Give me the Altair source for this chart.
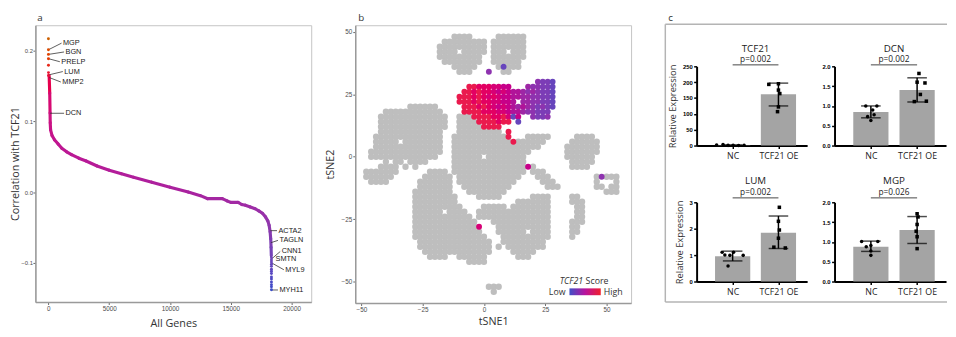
import altair as alt
import pandas as pd

FONT = "Liberation Sans"
TFONT = "Open Sans"

# ======================= panel a : correlation with TCF21 =======================
head_rank = [1, 2, 3, 4, 5, 6, 7]
head_corr = [0.217, 0.2014, 0.1948, 0.1887, 0.1793, 0.169, 0.165]

curve_rank = [60, 110, 137, 150, 180, 300, 500, 800, 1100, 1500, 1900, 2500, 3100, 4000,
              5000, 6000, 7000, 8500, 10000, 11500, 12500, 13100, 14300, 14700, 15000,
              15600, 15900, 16200, 16600, 17000, 17300, 17600, 17850, 18050, 18150,
              18230, 18280, 18310, 18330]
curve_corr = [0.165, 0.140, 0.112, 0.098, 0.088, 0.080, 0.074, 0.068, 0.062, 0.057, 0.053,
              0.048, 0.044, 0.037, 0.031, 0.026, 0.021, 0.014, 0.007, 0.000, -0.005,
              -0.0093, -0.0093, -0.0125, -0.0145, -0.0145, -0.0175, -0.0185, -0.021,
              -0.0235, -0.0265, -0.030, -0.035, -0.041, -0.047, -0.056, -0.066, -0.078, -0.090]

tail_rank = [18340, 18340, 18340, 18340, 18340, 18340, 18340,
             18340, 18340, 18340, 18340, 18340, 18340, 18340]
tail_corr = [-0.093, -0.096, -0.099, -0.102, -0.105, -0.109, -0.112,
             -0.115, -0.120, -0.123, -0.127, -0.131, -0.134, -0.138]

label_gene = ["MGP", "BGN", "PRELP", "LUM", "MMP2", "DCN",
              "ACTA2", "TAGLN", "CNN1", "SMTN", "MYL9", "MYH11"]
label_from_rank = [10, 10, 10, 80, 80, 137, 18260, 18300, 18345, 18560, 18345, 18340]
label_from_corr = [0.2014, 0.1948, 0.1887, 0.166, 0.162, 0.1115,
                   -0.0545, -0.0715, -0.0946, -0.0946, -0.100, -0.1384]
label_to_rank = [1080, 1288, 942, 1184, 1023, 1288, 18797, 18877, 19063, 18560, 19360, 18877]
label_to_corr = [0.2107, 0.1982, 0.1844, 0.1705, 0.1557, 0.1115,
                 -0.0545, -0.0683, -0.084, -0.0946, -0.1098, -0.1384]

# ======================= panel b : tSNE map (2-unit grid) ==========
# '#' grey cell, digit = TCF21 score (0 low .. 9 high), '.' empty
TSNE_X0, TSNE_Y0, TSNE_STEP = -50, 52, 2
tsne_mask = [
    "",
    "",
    "....." "....." "....." "...." "####" "....." "######",
    "....." "....." "....." ".." "#####" "####" "." "#####" "##",
    "....." "....." "....." "." "#####" "#####" "." "#####" "##",
    "....." "....." "....." "." "####." "#####" "." "###.###",
    "....." "....." "....." "." "#####" "####" ".." "#####" "##",
    "....." "....." "....." ".." "#####" "###" ".." "#####" "#",
    "....." "....." "....." "...." "#####" "...." "#1###",
    "....." "....." "....." "....." "###" "..." "3" ".." "##",
    "",
    "....." "....." "....." "....." "....." "....." "....." "." "3221",
    "....." "....." "....." "....." ".." "998887766" "..." "433221",
    "....." "....." "....." "....." "." "9989887676554343221",
    "....." "....." "....." "....." "99989878766554433221",
    "....." "....." "....." "....." "999898877665.4433221",
    "....." "....." "#####" "#" "....." "9998987676545432321",
    "....." "#####" "#####" "##" "...." "999988877655433222",
    "...." "#####" "#####" "####" ".." "###" "9999889716" ".." "3223",
    "...." "#####" "#####" "####" ".." "####" "9999899" "." "1",
    "...." "#####" "#####" "####" ".." "#####" "9999",
    "...." "#####" "#####" "###" "..." "#####" "####" "." "9",
    "..." "#####" "#####" "####" ".." "#####" "#####" "#" "9" "..." "#####" "....." "####",
    "..." "#####" ".####" "####" ".." "#####" "#####" "##" "9" "#####" "#" "....." "#####" "#",
    "..." "#####" "#####" "####" ".." "#####" "#####" "#####" "###" "....." "#####" "##",
    ".." "#####" "#####" "#####" ".." "#####" "#####" "#####" "#" "....." ".." "#####" "##",
    ".." "#####" "#####" "####" "..." "#####" "#.###" "#####" "....." "..." "#####" "#",
    "....." "#.##.####" "....." "#####" "#####" "#####" "....." "...." "#####",
    "...." "####" ".#.#" "....." ".." "#####" "#####" "#####" "6#" "....." ".." "####",
    "." "#####" "##" "....." "." "####" "." "#####" "#####" "#####" "." "###",
    "." "#####" "#" "....." "." "#####" "#" "." "#####" "#####" "###" "..." "###" "....." "...." "#3###",
    ".." "####" "....." "." "#####" "##" "." "#####" "#####" "##" "....." "###" "....." "..." "#...#",
    "....." "....." ".." "#####" "##" ".." "#####" "#####" "....." ".." "###" "....." ".." "##.##",
    "....." "....." "." "#####" "###" "..." "#####" "###" "....." "....." "....." "....." "###",
    "....." "....." "." "#####" "####" "...." "#####" "....." "." "####" "...." "##",
    "....." "....." "." "#####" "####" "....." "....." ".." "#####" "##" "...." "###",
    "....." "....." "." "#####" "#####" "...." "#####" "." "#####" "###" "....." "##",
    "....." "....." "." "#####" "#.###" "#" ".." "#####" "#####" "#####" "....." "##",
    "....." "....." "." "#####" "#####" "##" "." "#####" "#####" "#####" "....." "##",
    "....." "....." "." "#####" "#####" "###" "..." "#####" "#####" "##" "...." "###",
    "....." "....." "." "#####" "#####" "###" "7" "..." "#####" "#####" "#" "...." "##",
    "....." "....." "." "#####" "#####" "####" "..." "#####" "#.###" "#" "...." "##",
    "....." "....." "." "#####" "#####" "#####" "..." "#####" "#####" "...." "#",
    "....." "....." ".." "#####" "#####" "#####" ".." "#####" "####",
    "....." "....." ".." "#####" "#####" "#####" "." "#" "." "#####" "###",
    "....." "....." "..." "#####" "#####" "####" "...." "#####",
    "....." "....." "...." "####" ".." "#####" "#" "....." "." "###",
    "....." "....." "....." "....." ".." "####",
    "",
    "",
    "",
    "",
    "....." "....." "....." "....." "....." "." "###",
    "....." "....." "....." "....." "....." ".." "#",
    "",
]

# ======================= panel c : qPCR bars =======================
p_values = {"TCF21": "p=0.002", "DCN": "p=0.002", "LUM": "p=0.002", "MGP": "p=0.026"}
bar_means = {"TCF21": [1.0, 162], "DCN": [0.85, 1.40], "LUM": [0.96, 1.85], "MGP": [0.88, 1.30]}
err_low = {"TCF21": [0.4, 125], "DCN": [0.70, 1.10], "LUM": [0.78, 1.25], "MGP": [0.76, 0.96]}
err_high = {"TCF21": [1.8, 197], "DCN": [1.0, 1.71], "LUM": [1.15, 2.48], "MGP": [1.02, 1.64]}
nc_points = {"TCF21": [1.5, 3.5, 0.6, 1.0, 0.4, 0.8],
             "DCN": [1.0, 1.0, 0.9, 0.78, 0.73, 0.63],
             "LUM": [1.11, 1.11, 1.0, 0.99, 0.99, 0.59],
             "MGP": [1.01, 1.01, 0.91, 0.88, 0.77, 0.66]}
nc_offsets = {"TCF21": [-0.35, -0.21, -0.10, 0.01, 0.13, 0.25],
              "DCN": [-0.11, 0.13, 0.04, 0.07, -0.07, 0.0],
              "LUM": [-0.23, 0.02, -0.17, -0.06, 0.23, -0.1],
              "MGP": [-0.2, 0.15, 0.0, -0.1, 0.0, 0.0]}
oe_points = {"TCF21": [193, 195, 175, 164, 122, 107],
             "DCN": [1.82, 1.60, 1.58, 1.29, 1.11, 1.12],
             "LUM": [2.81, 2.28, 1.95, 1.64, 1.30, 1.27],
             "MGP": [1.71, 1.63, 1.44, 1.27, 1.13, 0.83]}
oe_offsets = {"TCF21": [-0.21, 0.0, 0.0, 0.03, 0.0, -0.02],
              "DCN": [0.04, 0.0, 0.17, 0.07, -0.06, 0.2],
              "LUM": [0.02, 0.0, 0.02, 0.0, -0.1, 0.15],
              "MGP": [0.0, 0.02, 0.0, -0.02, 0.0, 0.0]}
y_max = {"TCF21": 250, "DCN": 2.0, "LUM": 3, "MGP": 2.0}
y_ticks = {"TCF21": [0, 50, 100, 150, 200, 250], "DCN": [0, 0.5, 1.0, 1.5, 2.0],
           "LUM": [0, 1, 2, 3], "MGP": [0, 0.5, 1.0, 1.5, 2.0]}
y_format = {"TCF21": "d", "DCN": ".1f", "LUM": "d", "MGP": ".1f"}

one = pd.DataFrame({"k": [0]})
LABEL_Y = -7.5

# ----------------------------- panel a -----------------------------
seg = pd.DataFrame({"x": curve_rank[:-1], "y": curve_corr[:-1],
                    "x2": curve_rank[1:], "y2": curve_corr[1:]})
seg["c"] = (seg["y"] + seg["y2"]) / 2
pts_a = pd.DataFrame({"x": head_rank + tail_rank, "y": head_corr + tail_corr})
lab_lines = pd.DataFrame({"x": label_from_rank, "y": label_from_corr,
                          "x2": label_to_rank, "y2": label_to_corr})
lab_text = pd.DataFrame({"gene": label_gene, "x": label_to_rank, "y": label_to_corr})

a_xs = alt.Scale(domain=[-1070, 21611], nice=False, zero=False)
a_ys = alt.Scale(domain=[-0.1555, 0.236], nice=False, zero=False)
a_col = alt.Scale(domain=[-0.138, -0.09, -0.05, 0.0, 0.06, 0.12, 0.17],
                  range=["#3a4cc8", "#6f44b8", "#8e37ad", "#a9229f", "#bd1793", "#d1157a", "#e8192f"])
a_xaxis = alt.Axis(values=[0, 5000, 10000, 15000, 20000], format="d", labelFont=FONT,
                   labelFontSize=6.5, labelColor="#4d4d4d", labelPadding=1.5, tickSize=2.5,
                   tickColor="#666666", domainColor="#9a9a9a", domainWidth=1.5, grid=False,
                   titleFont=TFONT, titleFontSize=11, titleFontWeight="normal",
                   titleColor="#333333", titlePadding=6)
a_yaxis = alt.Axis(values=[-0.1, 0.0, 0.1, 0.2], format=".1f", labelFont=FONT,
                   labelFontSize=6, labelColor="#4d4d4d", labelPadding=0.5, tickSize=2.5,
                   tickColor="#666666", domainColor="#9a9a9a", domainWidth=1.5, grid=False,
                   titleFont=TFONT, titleFontSize=11, titleFontWeight="normal",
                   titleColor="#333333", titlePadding=0)


def AX(f):
    return alt.X(f, scale=a_xs, axis=a_xaxis, title="All Genes")


def AY(f):
    return alt.Y(f, scale=a_ys, axis=a_yaxis, title="Correlation with TCF21")


a_curve = alt.Chart(seg).mark_rule(strokeWidth=3.2, strokeCap="round").encode(
    x=AX("x:Q"), y=AY("y:Q"), x2="x2:Q", y2="y2:Q",
    color=alt.Color("c:Q", scale=a_col, legend=None))
a_pts = alt.Chart(pts_a).mark_circle(size=9, opacity=1).encode(
    x=AX("x:Q"), y=AY("y:Q"), color=alt.Color("y:Q", scale=a_col, legend=None))
a_lines = alt.Chart(lab_lines).mark_rule(color="#333333", strokeWidth=0.8).encode(
    x=AX("x:Q"), y=AY("y:Q"), x2="x2:Q", y2="y2:Q")
a_text = alt.Chart(lab_text).mark_text(align="left", baseline="middle", dx=1.5, fontSize=7.5,
                                       font=FONT, color="#1a1a1a").encode(
    x=AX("x:Q"), y=AY("y:Q"), text="gene:N")
a_label = alt.Chart(one).mark_text(text="a", align="left", baseline="middle", fontSize=10,
                                   font=TFONT, color="#333333").encode(
    x=alt.value(2), y=alt.value(LABEL_Y))
panel_a = alt.layer(a_curve, a_lines, a_pts, a_text, a_label).properties(
    width=282, height=283, view=alt.ViewBackground(stroke="#c4c4c4", strokeWidth=1))

# ----------------------------- panel b -----------------------------
grey_x, grey_y, col_x, col_y, col_s = [], [], [], [], []
for r, row in enumerate(tsne_mask):
    for c, ch in enumerate(row):
        px = TSNE_X0 + TSNE_STEP * c
        py = TSNE_Y0 - TSNE_STEP * r
        if ch == "#":
            grey_x.append(px)
            grey_y.append(py)
        elif ch.isdigit():
            col_x.append(px)
            col_y.append(py)
            col_s.append(int(ch))
grey_df = pd.DataFrame({"x": grey_x, "y": grey_y})
col_df = pd.DataFrame({"x": col_x, "y": col_y, "score": col_s})

b_xs = alt.Scale(domain=[-52.5, 60], nice=False, zero=False)
b_ys = alt.Scale(domain=[-58.5, 52.6], nice=False, zero=False)
b_axis_common = dict(values=[-50, -25, 0, 25, 50], format="d", labelFont=FONT, labelFontSize=6.5,
                     labelColor="#4d4d4d", tickSize=2.5, tickColor="#666666",
                     domainColor="#9a9a9a", domainWidth=1.5, grid=False, titleFont=TFONT,
                     titleFontSize=11, titleFontWeight="normal", titleColor="#333333")
b_xaxis = alt.Axis(labelPadding=1.5, titlePadding=2, **b_axis_common)
b_yaxis = alt.Axis(labelPadding=1, titlePadding=5.5, **b_axis_common)
b_colscale = alt.Scale(domain=[0, 4.5, 9], range=["#4f4cc0", "#a51fa0", "#ea1a4e"])


def BX(f):
    return alt.X(f, scale=b_xs, axis=b_xaxis, title="tSNE1")


def BY(f):
    return alt.Y(f, scale=b_ys, axis=b_yaxis, title="tSNE2")


b_grey = alt.Chart(grey_df).mark_circle(size=42, opacity=1, color="#bebebe").encode(
    x=BX("x:Q"), y=BY("y:Q"))
b_col = alt.Chart(col_df).mark_circle(size=36, opacity=1).encode(
    x=BX("x:Q"), y=BY("y:Q"), color=alt.Color("score:Q", scale=b_colscale, legend=None))
grad = alt.LinearGradient(gradient="linear", x1=0, x2=1, y1=0, y2=0,
                          stops=[alt.GradientStop(color="#3f50c8", offset=0),
                                 alt.GradientStop(color="#b8139e", offset=0.5),
                                 alt.GradientStop(color="#f01f2c", offset=1)])
b_grad = alt.Chart(one).mark_rect(color=grad).encode(
    x=alt.value(219), x2=alt.value(251), y=alt.value(269), y2=alt.value(276))
leg_font = dict(font=TFONT, fontSize=9, color="#333333", baseline="middle")
b_t1 = alt.Chart(one).mark_text(text="TCF21", align="right", fontStyle="italic", **leg_font).encode(
    x=alt.value(233), y=alt.value(262))
b_t2 = alt.Chart(one).mark_text(text="Score", align="left", **leg_font).encode(
    x=alt.value(235.5), y=alt.value(262))
b_low = alt.Chart(one).mark_text(text="Low", align="right", **leg_font).encode(
    x=alt.value(215), y=alt.value(272.5))
b_high = alt.Chart(one).mark_text(text="High", align="left", **leg_font).encode(
    x=alt.value(254), y=alt.value(272.5))
b_label = alt.Chart(one).mark_text(text="b", align="left", baseline="middle", fontSize=10,
                                   font=TFONT, color="#333333").encode(
    x=alt.value(3), y=alt.value(LABEL_Y))
panel_b = alt.layer(b_grey, b_col, b_grad, b_t1, b_t2, b_low, b_high, b_label).properties(
    width=282, height=284, view=alt.ViewBackground(stroke="#c4c4c4", strokeWidth=1))

# ----------------------------- panel c -----------------------------
FRAME = "#b4b4b4"


def bar_panel(gene, ytitle, offs, width):
    title_y, p_y, line_y = offs
    nv = nc_points[gene]
    ov = oe_points[gene]
    pts = pd.DataFrame({
        "pos": [0 + o for o in nc_offsets[gene]] + [1 + o for o in oe_offsets[gene]],
        "val": nv + ov,
        "grp": ["NC"] * len(nv) + ["OE"] * len(ov),
    })
    bars = pd.DataFrame({"pos": [0, 1], "val": bar_means[gene],
                         "lo": err_low[gene], "hi": err_high[gene]})
    sig = pd.DataFrame({"pos": [0], "pos2": [1], "mid": [0.5],
                        "p": [p_values[gene]], "gene": [gene]})
    xsc = alt.Scale(domain=[-0.68, 1.52], nice=False, zero=False)
    ysc = alt.Scale(domain=[0, y_max[gene]], nice=False)
    xax = alt.Axis(values=[0, 1], labelExpr="datum.value == 0 ? 'NC' : 'TCF21 OE'",
                   labelFont=TFONT, labelFontSize=9, labelColor="#222222", labelPadding=3,
                   tickSize=3, tickWidth=1.5, tickColor="black", domainColor="black",
                   domainWidth=2, grid=False)
    yax = alt.Axis(values=y_ticks[gene], format=y_format[gene], labelFont=FONT,
                   labelFontSize=6, labelFontWeight="bold", labelColor="black",
                   labelPadding=1.5, tickSize=3, tickWidth=1.5, tickColor="black",
                   domainColor="black", domainWidth=2, grid=False, titleFont=TFONT,
                   titleFontSize=9.5, titleFontWeight="normal", titleColor="#333333",
                   titlePadding=5)

    def X(f):
        return alt.X(f, scale=xsc, axis=xax, title=None)

    def Y(f):
        return alt.Y(f, scale=ysc, axis=yax, title=ytitle)

    bar = alt.Chart(bars).mark_bar(size=36, color="#a4a4a4", orient="vertical").encode(
        x=X("pos:Q"), y=Y("val:Q"))
    err = alt.Chart(bars).mark_rule(color="black", strokeWidth=1.5).encode(
        x=X("pos:Q"), y=Y("lo:Q"), y2="hi:Q")
    cap_lo = alt.Chart(bars).mark_tick(orient="horizontal", size=20, thickness=1.5,
                                       color="black").encode(x=X("pos:Q"), y=Y("lo:Q"))
    cap_hi = alt.Chart(bars).mark_tick(orient="horizontal", size=20, thickness=1.5,
                                       color="black").encode(x=X("pos:Q"), y=Y("hi:Q"))
    dots = alt.Chart(pts).mark_point(filled=True, size=13, opacity=1, color="black").encode(
        x=X("pos:Q"), y=Y("val:Q"),
        shape=alt.Shape("grp:N", scale=alt.Scale(domain=["NC", "OE"], range=["circle", "square"]),
                        legend=None))
    sig_rule = alt.Chart(sig).mark_rule(color="#444444", strokeWidth=1).encode(
        x=X("pos:Q"), x2="pos2:Q", y=alt.value(line_y))
    p_text = alt.Chart(sig).mark_text(font=TFONT, fontSize=8.5, color="#222222",
                                      baseline="alphabetic").encode(
        x=X("mid:Q"), y=alt.value(p_y), text="p:N")
    g_text = alt.Chart(sig).mark_text(font=TFONT, fontSize=10, color="#222222",
                                      baseline="alphabetic").encode(
        x=X("mid:Q"), y=alt.value(title_y), text="gene:N")
    return alt.layer(bar, err, cap_lo, cap_hi, dots, sig_rule, p_text, g_text).properties(
        width=width, height=81)


row1_offs = (-14.5, -4, -1.5)
row2_offs = (-18.5, -7.5, -4.5)
p_tcf = bar_panel("TCF21", "Relative Expression", row1_offs, 113)
p_dcn = bar_panel("DCN", None, row1_offs, 114)
p_lum = bar_panel("LUM", "Relative Expression", row2_offs, 113)
p_mgp = bar_panel("MGP", None, row2_offs, 114)

# grey frame around panel c and its letter (top strip above the four small plots)
c_top = alt.layer(
    alt.Chart(one).mark_rule(color=FRAME, strokeWidth=1.5).encode(
        x=alt.value(-32), x2=alt.value(256), y=alt.value(-1)),
    alt.Chart(one).mark_rule(color=FRAME, strokeWidth=1.5).encode(
        x=alt.value(-32), y=alt.value(-1), y2=alt.value(283)),
    alt.Chart(one).mark_rule(color=FRAME, strokeWidth=1.5).encode(
        x=alt.value(-32), x2=alt.value(256), y=alt.value(283)),
    alt.Chart(one).mark_text(text="c", align="left", baseline="middle", fontSize=10,
                             font=TFONT, color="#333333").encode(
        x=alt.value(-29), y=alt.value(LABEL_Y)),
).properties(width=255, height=42)

grid_c = alt.concat(p_tcf, p_dcn, p_lum, p_mgp, columns=2, bounds="flush",
                    spacing={"row": 58, "column": 28}).resolve_scale(
    x="independent", y="independent", shape="independent")
panel_c = alt.vconcat(c_top, grid_c, spacing=0, bounds="flush").resolve_scale(
    x="independent", y="independent", shape="independent")

ab = alt.hconcat(panel_a, panel_b, spacing=12).resolve_scale(
    x="independent", y="independent", color="independent")

chart = alt.hconcat(ab, panel_c, spacing=33).resolve_scale(
    x="independent", y="independent", color="independent", shape="independent"
).properties(
    padding={"left": 1, "top": 1, "right": 0, "bottom": 0}
).configure_view(stroke=None)

chart.save("out.html", embed_options={"renderer": "svg", "actions": False})
